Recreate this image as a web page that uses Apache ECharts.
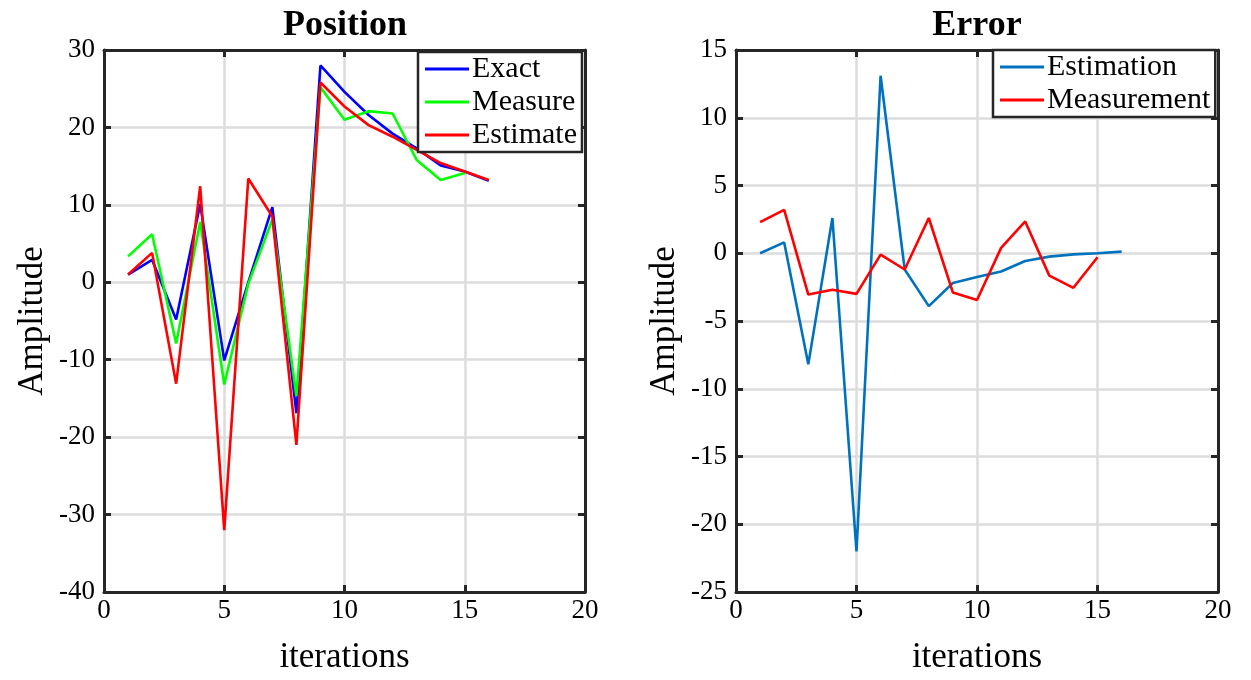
<!DOCTYPE html>
<html>
<head>
<meta charset="utf-8">
<script src="https://cdn.jsdelivr.net/npm/echarts@6/dist/echarts.min.js"></script>
<style>
  html, body { margin: 0; padding: 0; background: #fff; }
  #main { width: 1251px; height: 680px; }
</style>
</head>
<body>
<div id="main"></div>
<script>
// 数据
let iterations = [1, 2, 3, 4, 5, 6, 7, 8, 9, 10, 11, 12, 13, 14, 15, 16];
let exact = [1.0, 2.9, -4.8, 10.1, -10.1, 0.0, 9.7, -16.9, 28.0, 24.6, 21.6, 19.2, 17.3, 15.1, 14.3, 13.1];
let measure = [3.35, 6.2, -7.9, 7.8, -13.2, -0.2, 8.1, -14.7, 25.2, 21.0, 22.1, 21.8, 15.8, 13.2, 14.1];
let estimate = [1.0, 3.8, -13.1, 12.4, -32.0, 13.4, 8.5, -21.0, 25.8, 22.7, 20.3, 18.8, 17.1, 15.4, 14.3, 13.2];
let estErr = [0, 0.8, -8.2, 2.6, -22.0, 13.1, -1.2, -3.9, -2.2, -1.76, -1.35, -0.57, -0.25, -0.08, 0, 0.12];
let measErr = [2.3, 3.2, -3.05, -2.7, -3.0, -0.1, -1.2, 2.6, -2.9, -3.45, 0.4, 2.35, -1.65, -2.55, -0.3];
let xTicks = [0, 5, 10, 15, 20];

let font = 'Liberation Serif';
let dark = '#262626';

function pairs(ys) {
    return ys.map(function (v, i) { return [iterations[i], v]; });
}

function xAxes(gi) {
    let base = {
        type: 'value', gridIndex: gi, min: xTicks[0], max: xTicks[xTicks.length - 1], interval: 5,
        axisLine: { show: true, onZero: false, lineStyle: { color: dark, width: 3 } },
        axisTick: { show: true, inside: true, length: 7, lineStyle: { color: dark, width: 3 } },
        splitLine: { show: false }
    };
    return [
        Object.assign({}, base, {
            position: 'bottom',
            name: 'iterations', nameLocation: 'middle', nameGap: 48,
            nameTextStyle: { fontFamily: font, fontSize: 35, color: '#000' },
            axisLabel: { fontFamily: font, fontSize: 27, color: '#000', margin: 5 },
            splitLine: { show: true, lineStyle: { color: '#dcdcdc', width: 2.5 } }
        }),
        Object.assign({}, base, { position: 'top', axisLabel: { show: false } })
    ];
}

function yAxes(gi, min, max, step) {
    let base = {
        type: 'value', gridIndex: gi, min: min, max: max, interval: step,
        axisLine: { show: true, onZero: false, lineStyle: { color: dark, width: 3 } },
        axisTick: { show: true, inside: true, length: 7, lineStyle: { color: dark, width: 3 } },
        splitLine: { show: false }
    };
    return [
        Object.assign({}, base, {
            position: 'left',
            name: 'Amplitude', nameLocation: 'middle', nameGap: 54,
            nameTextStyle: { fontFamily: font, fontSize: 35, color: '#000' },
            axisLabel: { fontFamily: font, fontSize: 27, color: '#000', margin: 9 },
            splitLine: { show: true, lineStyle: { color: '#dcdcdc', width: 2.5 } }
        }),
        Object.assign({}, base, { position: 'right', axisLabel: { show: false } })
    ];
}

function line(name, ys, color, xi, yi) {
    return {
        name: name, type: 'line', data: pairs(ys), xAxisIndex: xi, yAxisIndex: yi,
        symbol: 'none', lineStyle: { color: color, width: 2.6 }, itemStyle: { color: color },
        z: 3, animation: false
    };
}

let legendBase = {
    orient: 'vertical', backgroundColor: '#fff', borderColor: dark, borderWidth: 2.5,
    padding: [2, 5, 2, 7], itemGap: 3, itemWidth: 44, itemHeight: 3, icon: 'rect',
    textStyle: { fontFamily: font, fontSize: 30, color: '#000', padding: [0, 0, 0, -2] }
};

let myChart = echarts.init(document.getElementById('main'));
let option = {
    backgroundColor: '#fff',
    animation: false,
    title: [
        { text: 'Position', left: 340, top: 3, textAlign: 'center',
          textStyle: { fontFamily: font, fontSize: 36, fontWeight: 'bold', color: '#000' } },
        { text: 'Error', left: 972, top: 3, textAlign: 'center',
          textStyle: { fontFamily: font, fontSize: 36, fontWeight: 'bold', color: '#000' } }
    ],
    grid: [
        { left: 104, top: 50, width: 481, height: 545 },
        { left: 736, top: 50, width: 482, height: 544 }
    ],
    xAxis: xAxes(0).concat(xAxes(1)),
    yAxis: yAxes(0, -40, 30, 10).concat(yAxes(1, -25, 15, 5)),
    legend: [
        Object.assign({}, legendBase, { left: 418, top: 52, data: ['Exact', 'Measure', 'Estimate'] }),
        Object.assign({}, legendBase, { left: 993, top: 50, data: ['Estimation', 'Measurement'] })
    ],
    series: [
        line('Exact', exact, '#0000ff', 0, 0),
        line('Measure', measure, '#00ff00', 0, 0),
        line('Estimate', estimate, '#ff0000', 0, 0),
        line('Estimation', estErr, '#0072bd', 2, 2),
        line('Measurement', measErr, '#ff0000', 2, 2)
    ]
};
myChart.setOption(option, true);
</script>
</body>
</html>
